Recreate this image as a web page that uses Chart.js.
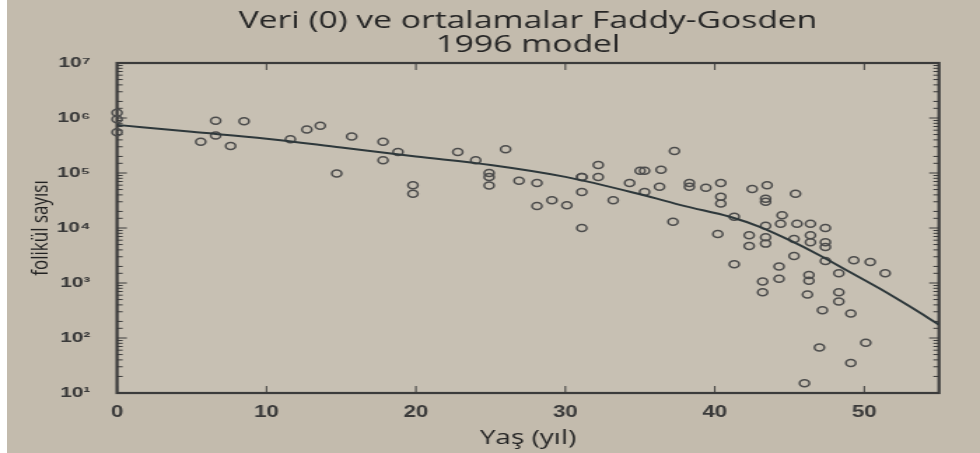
<!DOCTYPE html>
<html>
<head>
<meta charset="utf-8">
<script src="https://cdn.jsdelivr.net/npm/chart.js@4.4.1/dist/chart.umd.min.js"></script>
<style>
  html, body { margin: 0; padding: 0; background: #ffffff; width: 980px; height: 453px; overflow: hidden; }
  #wrap { position: absolute; left: 7px; top: 0; width: 973px; height: 453px; background: #c3bbad; overflow: hidden; }
  #inner { position: absolute; left: 0; top: 0; width: 695px; height: 453px; transform: scaleX(1.4); transform-origin: 0 0; }
</style>
</head>
<body>
<div id="wrap"><div id="inner"><canvas id="c"></canvas></div></div>
<script>
// ---- data ----
const titleLines = ['Veri (0) ve ortalamalar Faddy-Gosden', '1996 model'];
const xAxisLabel = 'Yaş (yıl)';
const yAxisLabel = 'folikül sayısı';

const xTickValues = [0, 10, 20, 30, 40, 50];
const yTickValues = [1e1, 1e2, 1e3, 1e4, 1e5, 1e6, 1e7];
const yTickLabels = ['10¹', '10²', '10³', '10⁴', '10⁵', '10⁶', '10⁷'];

// observed data: age (years) and follicle count
const dataAges = [
  0, 0, 0,
  5.6, 6.6, 6.6, 7.6, 8.5, 11.6, 12.7, 13.6, 14.7, 15.7,
  17.8, 17.8, 18.8, 19.8, 19.8,
  22.8, 24.0, 24.9, 24.9, 24.9, 26.0, 26.9, 28.1, 28.1, 29.1, 30.1,
  31.1, 31.1, 31.1, 31.1, 32.2, 32.2, 33.2, 34.3, 35.0,
  35.3, 35.3, 36.4, 36.3, 37.3, 37.2, 38.3, 38.3, 39.4,
  40.4, 40.4, 40.4, 40.2, 41.3, 42.5, 43.5, 43.4, 43.4, 45.4,
  44.5, 43.4, 44.4, 45.5, 46.4, 47.4,
  42.3, 42.3, 43.4, 43.4, 45.3, 45.3, 46.4, 46.4, 47.4, 47.4,
  41.3, 44.3, 44.3, 43.2, 43.2, 46.3, 46.3, 46.2, 47.4,
  48.3, 48.3, 48.3, 49.3, 50.4, 51.4, 47.2, 49.1,
  47.0, 50.1, 49.1, 46.0
];
const dataCounts = [
  1250000, 950000, 550000,
  370000, 890000, 480000, 310000, 870000, 410000, 620000, 720000, 98000, 460000,
  370000, 170000, 240000, 60000, 42000,
  240000, 170000, 100000, 85000, 59000, 270000, 72000, 66000, 25000, 32000, 26000,
  45000, 85000, 10000, 85000, 140000, 85000, 32000, 66000, 110000,
  110000, 45000, 115000, 56000, 250000, 13000, 66000, 56000, 54000,
  66000, 37000, 28000, 7800, 16000, 51000, 60000, 34000, 30000, 42000,
  17000, 11000, 12000, 12000, 12000, 10000,
  7400, 4700, 6800, 5200, 6300, 3100, 7400, 5500, 5500, 4500,
  2200, 2000, 1200, 1070, 680, 1400, 1100, 620, 2500,
  1500, 680, 460, 2600, 2400, 1500, 320, 280,
  67, 82, 35, 15
];

// model curve (Faddy-Gosden 1996)
const modelAges   = [0, 5, 10, 15, 20, 25, 30, 35, 38, 41, 43, 45, 47, 49, 51, 53, 55];
const modelCounts = [750000, 560000, 420000, 290000, 200000, 140000, 85000, 41000, 25000, 16000, 10500, 6000, 3200, 1600, 800, 380, 175];

// ---- build datasets ----
const scatterPts = dataAges.map((a, i) => ({ x: a, y: dataCounts[i] }));
const modelPts = modelAges.map((a, i) => ({ x: a, y: modelCounts[i] }));

const isPow10 = v => { const l = Math.log10(v); return Math.abs(l - Math.round(l)) < 1e-9; };

const framePlugin = {
  id: 'frame',
  beforeDraw(chart) {
    const { ctx, chartArea: a } = chart;
    ctx.save();
    ctx.fillStyle = '#c7c0b3';
    ctx.fillRect(a.left, a.top, a.right - a.left, a.bottom - a.top);
    ctx.restore();
  },
  beforeDatasetsDraw(chart) {
    const { ctx, chartArea: a, scales } = chart;
    ctx.save();
    ctx.strokeStyle = '#3b3b3b';
    ctx.lineWidth = 1;
    scales.y.ticks.forEach(t => {
      const p = scales.y.getPixelForValue(t.value);
      const len = isPow10(t.value) ? 7 : 4;
      ctx.beginPath();
      ctx.moveTo(a.left, p); ctx.lineTo(a.left + len, p);
      ctx.moveTo(a.right, p); ctx.lineTo(a.right - len, p);
      ctx.stroke();
    });
    scales.x.ticks.forEach(t => {
      const p = scales.x.getPixelForValue(t.value);
      ctx.beginPath();
      ctx.moveTo(p, a.bottom); ctx.lineTo(p, a.bottom - 7);
      ctx.moveTo(p, a.top); ctx.lineTo(p, a.top + 7);
      ctx.stroke();
    });
    ctx.lineWidth = 2.2;
    ctx.strokeRect(a.left, a.top, a.right - a.left, a.bottom - a.top);
    ctx.restore();
  }
};

new Chart(document.getElementById('c'), {
  type: 'scatter',
  data: {
    datasets: [
      {
        label: 'Veri',
        data: scatterPts,
        showLine: false,
        pointStyle: 'circle',
        pointRadius: 3.5,
        pointBorderWidth: 1.5,
        pointBackgroundColor: 'rgba(0,0,0,0)',
        pointBorderColor: '#4c4c4c',
        clip: false,
        order: 2
      },
      {
        label: 'Model',
        type: 'line',
        data: modelPts,
        showLine: true,
        borderColor: '#2e383b',
        borderWidth: 2,
        pointRadius: 0,
        fill: false,
        cubicInterpolationMode: 'monotone',
        order: 1
      }
    ]
  },
  plugins: [framePlugin],
  options: {
    responsive: true,
    maintainAspectRatio: false,
    animation: false,
    layout: { padding: { left: 0, right: 29.3, top: 0, bottom: 0 } },
    plugins: {
      legend: { display: false },
      tooltip: { enabled: false },
      title: {
        display: true,
        text: titleLines,
        fullSize: false,
        color: '#262626',
        font: { family: "'Open Sans', 'Noto Sans', sans-serif", size: 24, weight: 'normal', lineHeight: 1.0 },
        padding: { top: 9, bottom: 6 }
      }
    },
    scales: {
      x: {
        type: 'linear',
        min: 0,
        max: 55,
        afterFit: s => { s.height = 60; },
        afterBuildTicks: s => { s.ticks = xTickValues.map(v => ({ value: v })); },
        grid: { display: false },
        border: { display: false },
        ticks: {
          color: '#3a3a3a',
          padding: 2,
          font: { family: "'Liberation Sans', Arial, sans-serif", size: 16, weight: 'bold' },
          maxRotation: 0
        },
        title: {
          display: true,
          text: xAxisLabel,
          color: '#262626',
          font: { family: "'Open Sans', 'Noto Sans', sans-serif", size: 20, weight: 'normal', lineHeight: 1.2 },
          padding: { top: 0, bottom: 3 }
        }
      },
      y: {
        type: 'logarithmic',
        min: 10,
        max: 1e7,
        afterFit: s => { s.width = 78.6; },
        grid: { display: false },
        border: { display: false },
        ticks: {
          color: '#3a3a3a',
          padding: 11,
          autoSkip: false,
          font: { family: "'Liberation Sans', Arial, sans-serif", size: 15, weight: 'bold' },
          callback: v => {
            const i = yTickValues.findIndex(t => Math.abs(t - v) / t < 1e-9);
            return i >= 0 ? yTickLabels[i] : '';
          }
        },
        title: {
          display: true,
          text: yAxisLabel,
          color: '#222222',
          font: { family: "'Open Sans', 'Noto Sans', sans-serif", size: 17, weight: 'normal', lineHeight: 1.2 },
          padding: { top: 14, bottom: 0 }
        }
      }
    }
  }
});
</script>
</body>
</html>
